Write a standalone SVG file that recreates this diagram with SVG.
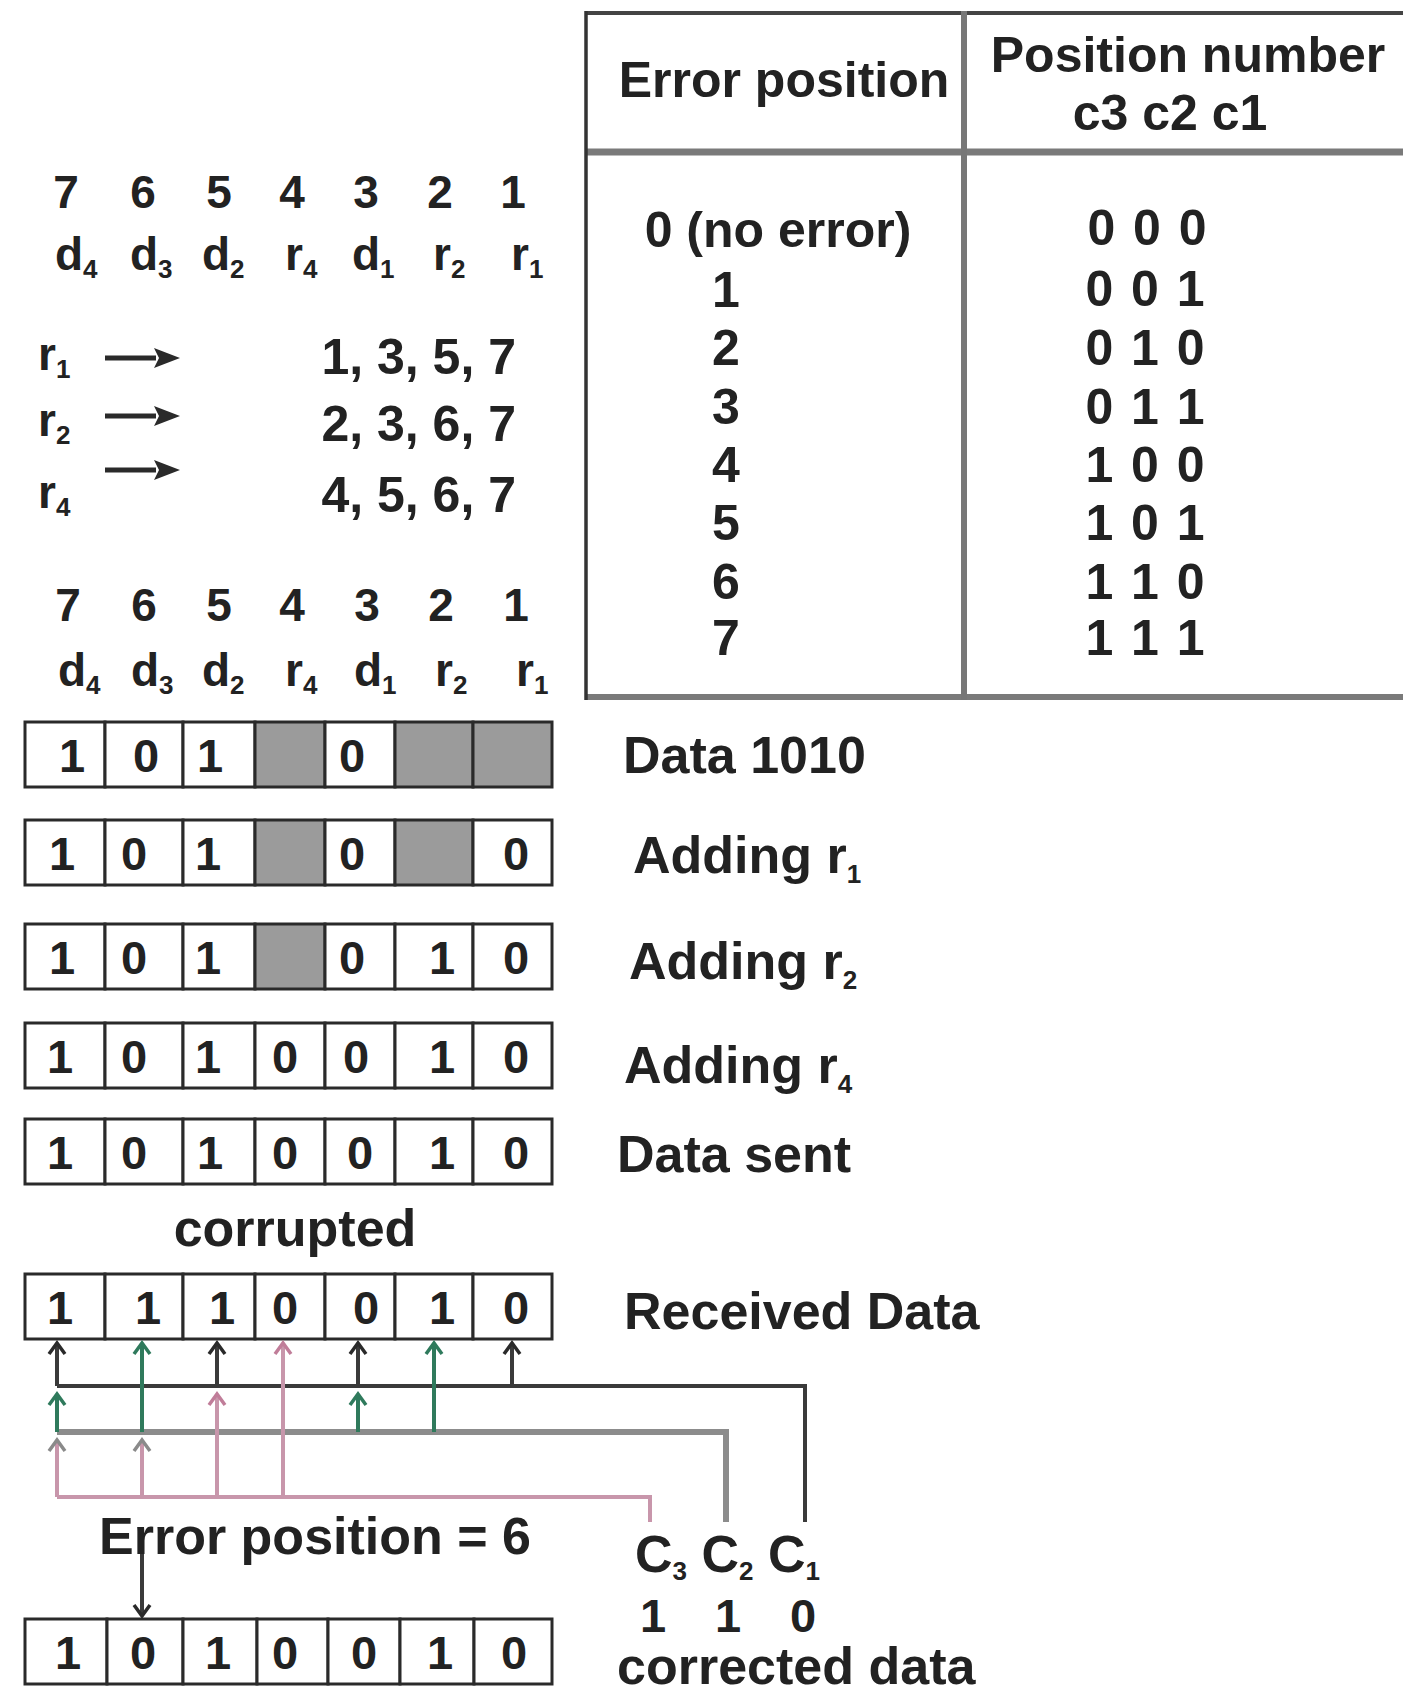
<svg xmlns="http://www.w3.org/2000/svg" width="1403" height="1692" viewBox="0 0 1403 1692">
<defs>
<style>
text{font-family:"Liberation Sans",Arial,sans-serif;font-weight:bold;fill:#222}
.lbl{font-size:52px}
.tb{font-size:50px}
.dg{font-size:47px;text-anchor:middle}
.hd{font-size:46px;text-anchor:middle}
.sm{font-size:46px}
.sub{font-size:26px}
.cell{fill:#fff;stroke:#2a2a2a;stroke-width:3}
.gray{fill:#9b9b9b}
.c1{stroke:#3a3a3a;stroke-width:4;fill:none}
.c2h{stroke:#8c8c8c;stroke-width:6;fill:none}
.c2{stroke:#2f7a5c;stroke-width:4;fill:none}
.c3{stroke:#c896ab;stroke-width:4;fill:none}
</style>
<marker id="ahDark" markerUnits="userSpaceOnUse" viewBox="-2 -10 16 20" markerWidth="16" markerHeight="20" refX="11" refY="0" orient="auto"><path d="M0,-8 L11,0 L0,8" fill="none" stroke="#2a2a2a" stroke-width="3.5"/></marker>
<marker id="ahGreen" markerUnits="userSpaceOnUse" viewBox="-2 -10 16 20" markerWidth="16" markerHeight="20" refX="11" refY="0" orient="auto"><path d="M0,-8 L11,0 L0,8" fill="none" stroke="#2f7a5c" stroke-width="3.5"/></marker>
<marker id="ahPink" markerUnits="userSpaceOnUse" viewBox="-2 -10 16 20" markerWidth="16" markerHeight="20" refX="11" refY="0" orient="auto"><path d="M0,-8 L11,0 L0,8" fill="none" stroke="#c07d99" stroke-width="3.5"/></marker>
<marker id="ahGray" markerUnits="userSpaceOnUse" viewBox="-2 -10 16 20" markerWidth="16" markerHeight="20" refX="11" refY="0" orient="auto"><path d="M0,-8 L11,0 L0,8" fill="none" stroke="#8a8a8a" stroke-width="3.5"/></marker>
<marker id="ahSolid" markerUnits="userSpaceOnUse" viewBox="0 -11 26 22" markerWidth="26" markerHeight="22" refX="2" refY="0" orient="auto"><path d="M0,-10 L26,0 L0,10 L5,0 z" fill="#2a2a2a"/></marker>
</defs>
<rect width="1403" height="1692" fill="#fff"/>

<g id="table">
<line x1="586" y1="13" x2="1403" y2="13" stroke="#444" stroke-width="4"/>
<line x1="586" y1="152" x2="1403" y2="152" stroke="#7a7a7a" stroke-width="7"/>
<line x1="586" y1="697" x2="1403" y2="697" stroke="#7a7a7a" stroke-width="6"/>
<line x1="586" y1="11" x2="586" y2="700" stroke="#333" stroke-width="3.5"/>
<line x1="964" y1="11" x2="964" y2="700" stroke="#777" stroke-width="6"/>
<text class="tb" x="784" y="97" text-anchor="middle">Error position</text>
<text class="tb" x="1188" y="72" text-anchor="middle">Position number</text>
<text class="tb" x="1170" y="130" text-anchor="middle">c3 c2 c1</text>
<text class="tb" x="778" y="247" text-anchor="middle">0 (no error)</text>
<text class="tb" x="726" y="307" text-anchor="middle">1</text>
<text class="tb" x="726" y="365" text-anchor="middle">2</text>
<text class="tb" x="726" y="424" text-anchor="middle">3</text>
<text class="tb" x="726" y="482" text-anchor="middle">4</text>
<text class="tb" x="726" y="540" text-anchor="middle">5</text>
<text class="tb" x="726" y="599" text-anchor="middle">6</text>
<text class="tb" x="726" y="655" text-anchor="middle">7</text>
<text class="tb" x="1147" y="245" text-anchor="middle" word-spacing="4">0 0 0</text>
<text class="tb" x="1145" y="306" text-anchor="middle" word-spacing="4">0 0 1</text>
<text class="tb" x="1145" y="365" text-anchor="middle" word-spacing="4">0 1 0</text>
<text class="tb" x="1145" y="424" text-anchor="middle" word-spacing="4">0 1 1</text>
<text class="tb" x="1145" y="482" text-anchor="middle" word-spacing="4">1 0 0</text>
<text class="tb" x="1145" y="540" text-anchor="middle" word-spacing="4">1 0 1</text>
<text class="tb" x="1145" y="599" text-anchor="middle" word-spacing="4">1 1 0</text>
<text class="tb" x="1145" y="655" text-anchor="middle" word-spacing="4">1 1 1</text>
</g>

<g id="positions-top">
<text class="hd" x="66" y="208">7</text><text class="hd" x="143" y="208">6</text><text class="hd" x="219" y="208">5</text><text class="hd" x="292" y="208">4</text><text class="hd" x="366" y="208">3</text><text class="hd" x="440" y="208">2</text><text class="hd" x="513" y="208">1</text>
<text class="sm" x="55" y="270">d<tspan class="sub" dy="8">4</tspan></text>
<text class="sm" x="130" y="270">d<tspan class="sub" dy="8">3</tspan></text>
<text class="sm" x="202" y="270">d<tspan class="sub" dy="8">2</tspan></text>
<text class="sm" x="285" y="270">r<tspan class="sub" dy="8">4</tspan></text>
<text class="sm" x="352" y="270">d<tspan class="sub" dy="8">1</tspan></text>
<text class="sm" x="433" y="270">r<tspan class="sub" dy="8">2</tspan></text>
<text class="sm" x="511" y="270">r<tspan class="sub" dy="8">1</tspan></text>
</g>

<g id="parity-map">
<text class="sm" x="38" y="370">r<tspan class="sub" dy="8">1</tspan></text>
<text class="sm" x="38" y="436">r<tspan class="sub" dy="8">2</tspan></text>
<text class="sm" x="38" y="508">r<tspan class="sub" dy="8">4</tspan></text>
<line x1="105" y1="358" x2="156" y2="358" stroke="#2a2a2a" stroke-width="5" marker-end="url(#ahSolid)"/>
<line x1="105" y1="416" x2="156" y2="416" stroke="#2a2a2a" stroke-width="5" marker-end="url(#ahSolid)"/>
<line x1="105" y1="470" x2="156" y2="470" stroke="#2a2a2a" stroke-width="5" marker-end="url(#ahSolid)"/>
<text class="tb" x="516" y="374" text-anchor="end">1, 3, 5, 7</text>
<text class="tb" x="516" y="441" text-anchor="end">2, 3, 6, 7</text>
<text class="tb" x="516" y="512" text-anchor="end">4, 5, 6, 7</text>
</g>

<g id="positions-bottom">
<text class="hd" x="68" y="621">7</text><text class="hd" x="144" y="621">6</text><text class="hd" x="219" y="621">5</text><text class="hd" x="292" y="621">4</text><text class="hd" x="367" y="621">3</text><text class="hd" x="441" y="621">2</text><text class="hd" x="516" y="621">1</text>
<text class="sm" x="58" y="686">d<tspan class="sub" dy="8">4</tspan></text>
<text class="sm" x="131" y="686">d<tspan class="sub" dy="8">3</tspan></text>
<text class="sm" x="202" y="686">d<tspan class="sub" dy="8">2</tspan></text>
<text class="sm" x="285" y="686">r<tspan class="sub" dy="8">4</tspan></text>
<text class="sm" x="354" y="686">d<tspan class="sub" dy="8">1</tspan></text>
<text class="sm" x="435" y="686">r<tspan class="sub" dy="8">2</tspan></text>
<text class="sm" x="516" y="686">r<tspan class="sub" dy="8">1</tspan></text>
</g>

<g id="row-data">
<rect class="cell" x="25" y="722" width="80" height="65"/><rect class="cell" x="105" y="722" width="78" height="65"/><rect class="cell" x="183" y="722" width="72" height="65"/><rect class="cell gray" x="255" y="722" width="70" height="65"/><rect class="cell" x="325" y="722" width="70" height="65"/><rect class="cell gray" x="395" y="722" width="78" height="65"/><rect class="cell gray" x="473" y="722" width="79" height="65"/>
<text class="dg" x="72" y="772">1</text><text class="dg" x="146" y="772">0</text><text class="dg" x="210" y="772">1</text><text class="dg" x="352" y="772">0</text>
<text class="lbl" x="623" y="773">Data 1010</text>
</g>

<g id="row-r1">
<rect class="cell" x="25" y="820" width="80" height="65"/><rect class="cell" x="105" y="820" width="78" height="65"/><rect class="cell" x="183" y="820" width="72" height="65"/><rect class="cell gray" x="255" y="820" width="70" height="65"/><rect class="cell" x="325" y="820" width="70" height="65"/><rect class="cell gray" x="395" y="820" width="78" height="65"/><rect class="cell" x="473" y="820" width="79" height="65"/>
<text class="dg" x="62" y="870">1</text><text class="dg" x="134" y="870">0</text><text class="dg" x="208" y="870">1</text><text class="dg" x="352" y="870">0</text><text class="dg" x="516" y="870">0</text>
<text class="lbl" x="633" y="873">Adding r<tspan class="sub" dy="10">1</tspan></text>
</g>

<g id="row-r2">
<rect class="cell" x="25" y="924" width="80" height="65"/><rect class="cell" x="105" y="924" width="78" height="65"/><rect class="cell" x="183" y="924" width="72" height="65"/><rect class="cell gray" x="255" y="924" width="70" height="65"/><rect class="cell" x="325" y="924" width="70" height="65"/><rect class="cell" x="395" y="924" width="78" height="65"/><rect class="cell" x="473" y="924" width="79" height="65"/>
<text class="dg" x="62" y="974">1</text><text class="dg" x="134" y="974">0</text><text class="dg" x="208" y="974">1</text><text class="dg" x="352" y="974">0</text><text class="dg" x="442" y="974">1</text><text class="dg" x="516" y="974">0</text>
<text class="lbl" x="629" y="979">Adding r<tspan class="sub" dy="10">2</tspan></text>
</g>

<g id="row-r4">
<rect class="cell" x="25" y="1023" width="80" height="65"/><rect class="cell" x="105" y="1023" width="78" height="65"/><rect class="cell" x="183" y="1023" width="72" height="65"/><rect class="cell" x="255" y="1023" width="70" height="65"/><rect class="cell" x="325" y="1023" width="70" height="65"/><rect class="cell" x="395" y="1023" width="78" height="65"/><rect class="cell" x="473" y="1023" width="79" height="65"/>
<text class="dg" x="60" y="1073">1</text><text class="dg" x="134" y="1073">0</text><text class="dg" x="208" y="1073">1</text><text class="dg" x="285" y="1073">0</text><text class="dg" x="356" y="1073">0</text><text class="dg" x="442" y="1073">1</text><text class="dg" x="516" y="1073">0</text>
<text class="lbl" x="624" y="1083">Adding r<tspan class="sub" dy="10">4</tspan></text>
</g>

<g id="row-sent">
<rect class="cell" x="25" y="1119" width="80" height="65"/><rect class="cell" x="105" y="1119" width="78" height="65"/><rect class="cell" x="183" y="1119" width="72" height="65"/><rect class="cell" x="255" y="1119" width="70" height="65"/><rect class="cell" x="325" y="1119" width="70" height="65"/><rect class="cell" x="395" y="1119" width="78" height="65"/><rect class="cell" x="473" y="1119" width="79" height="65"/>
<text class="dg" x="60" y="1169">1</text><text class="dg" x="134" y="1169">0</text><text class="dg" x="210" y="1169">1</text><text class="dg" x="285" y="1169">0</text><text class="dg" x="360" y="1169">0</text><text class="dg" x="442" y="1169">1</text><text class="dg" x="516" y="1169">0</text>
<text class="lbl" x="617" y="1172">Data sent</text>
</g>

<text id="corrupted" class="lbl" x="295" y="1246" text-anchor="middle">corrupted</text>

<g id="row-received">
<rect class="cell" x="25" y="1274" width="80" height="65"/><rect class="cell" x="105" y="1274" width="78" height="65"/><rect class="cell" x="183" y="1274" width="72" height="65"/><rect class="cell" x="255" y="1274" width="70" height="65"/><rect class="cell" x="325" y="1274" width="70" height="65"/><rect class="cell" x="395" y="1274" width="78" height="65"/><rect class="cell" x="473" y="1274" width="79" height="65"/>
<text class="dg" x="60" y="1324">1</text><text class="dg" x="148" y="1324">1</text><text class="dg" x="222" y="1324">1</text><text class="dg" x="285" y="1324">0</text><text class="dg" x="366" y="1324">0</text><text class="dg" x="442" y="1324">1</text><text class="dg" x="516" y="1324">0</text>
<text class="lbl" x="624" y="1329">Received Data</text>
</g>

<g id="connectors">
<path class="c3" d="M650,1522 V1497 H57"/>
<path class="c2h" d="M726,1522 V1432 H57"/>
<path class="c1" d="M805,1522 V1386 H57"/>
<line class="c3" x1="57" y1="1497" x2="57" y2="1440" marker-end="url(#ahGray)"/>
<line class="c3" x1="142" y1="1497" x2="142" y2="1440" marker-end="url(#ahGray)"/>
<line class="c3" x1="217" y1="1497" x2="217" y2="1394" marker-end="url(#ahPink)"/>
<line class="c3" x1="283" y1="1497" x2="283" y2="1343" marker-end="url(#ahPink)"/>
<line class="c2" x1="57" y1="1432" x2="57" y2="1394" marker-end="url(#ahGreen)"/>
<line class="c2" x1="142" y1="1432" x2="142" y2="1343" marker-end="url(#ahGreen)"/>
<line class="c2" x1="358" y1="1432" x2="358" y2="1394" marker-end="url(#ahGreen)"/>
<line class="c2" x1="434" y1="1432" x2="434" y2="1343" marker-end="url(#ahGreen)"/>
<line class="c1" x1="57" y1="1386" x2="57" y2="1343" marker-end="url(#ahDark)"/>
<line class="c1" x1="217" y1="1386" x2="217" y2="1343" marker-end="url(#ahDark)"/>
<line class="c1" x1="358" y1="1386" x2="358" y2="1343" marker-end="url(#ahDark)"/>
<line class="c1" x1="512" y1="1386" x2="512" y2="1343" marker-end="url(#ahDark)"/>
<line class="c1" x1="142" y1="1540" x2="142" y2="1616" marker-end="url(#ahDark)"/>
</g>

<g id="syndrome">
<text class="lbl" x="99" y="1554">Error position = 6</text>
<text class="lbl" x="635" y="1572">C<tspan class="sub" dy="8">3</tspan><tspan dy="-8"> C</tspan><tspan class="sub" dy="8">2</tspan><tspan dy="-8"> C</tspan><tspan class="sub" dy="8">1</tspan></text>
<text class="dg" x="653" y="1632">1</text><text class="dg" x="728" y="1632">1</text><text class="dg" x="803" y="1632">0</text>
<text class="lbl" x="617" y="1684">corrected data</text>
</g>

<g id="row-corrected">
<rect class="cell" x="25" y="1619" width="82" height="65"/><rect class="cell" x="107" y="1619" width="76" height="65"/><rect class="cell" x="183" y="1619" width="74" height="65"/><rect class="cell" x="257" y="1619" width="71" height="65"/><rect class="cell" x="328" y="1619" width="72" height="65"/><rect class="cell" x="400" y="1619" width="74" height="65"/><rect class="cell" x="474" y="1619" width="78" height="65"/>
<text class="dg" x="68" y="1669">1</text><text class="dg" x="143" y="1669">0</text><text class="dg" x="218" y="1669">1</text><text class="dg" x="285" y="1669">0</text><text class="dg" x="364" y="1669">0</text><text class="dg" x="440" y="1669">1</text><text class="dg" x="514" y="1669">0</text>
</g>
</svg>
